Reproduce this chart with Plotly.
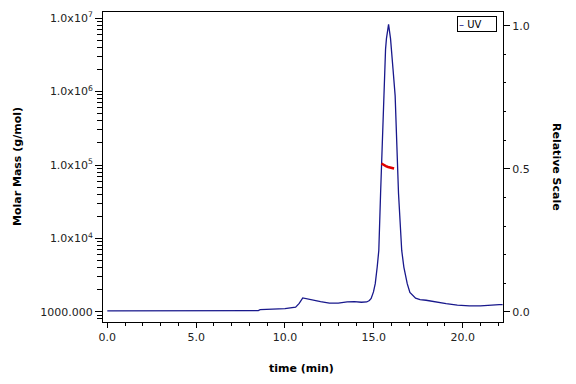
import plotly.graph_objects as go

# UV trace (relative scale)
uv_time = [0.0, 8.5, 8.6, 9.1, 10.0, 10.6, 10.8, 11.0, 11.2, 11.6, 12.0, 12.5, 13.0, 13.5,
           13.9, 14.3, 14.6, 14.75, 14.85, 14.98, 15.08, 15.19, 15.28, 15.38, 15.43, 15.51,
           15.54, 15.60, 15.66, 15.71, 15.83, 15.94, 15.98, 16.08, 16.20, 16.24, 16.28,
           16.31, 16.39, 16.57, 16.69, 16.88, 17.03, 17.35, 17.6, 17.94, 18.5, 19.07, 19.7,
           20.38, 21.0, 21.3, 22.06, 22.25]
uv_value = [0.004, 0.005, 0.008, 0.009, 0.012, 0.017, 0.030, 0.049, 0.046, 0.041, 0.036, 0.031,
            0.031, 0.035, 0.036, 0.034, 0.035, 0.040, 0.047, 0.070, 0.099, 0.157, 0.215, 0.414,
            0.518, 0.610, 0.720, 0.849, 0.918, 0.955, 1.005, 0.955, 0.918, 0.849, 0.755, 0.685,
            0.610, 0.518, 0.414, 0.215, 0.157, 0.099, 0.068, 0.048, 0.043, 0.041, 0.034, 0.029,
            0.024, 0.021, 0.021, 0.023, 0.026, 0.026]

# Molar mass trace (g/mol)
mm_time = [15.43, 15.50, 15.58, 15.68, 15.80, 15.92, 16.04, 16.14]
mm_value = [1.05e5, 1.02e5, 9.9e4, 9.65e4, 9.4e4, 9.2e4, 9.05e4, 8.95e4]

# Tick labels
x_ticks = [0, 5, 10, 15, 20]
mm_ticks = [1e3, 1e4, 1e5, 1e6, 1e7]
mm_ticktext = ["1000.000", "1.0x10<sup>4</sup>", "1.0x10<sup>5</sup>",
               "1.0x10<sup>6</sup>", "1.0x10<sup>7</sup>"]
mm_minor = [m * 10 ** e for e in range(2, 7) for m in range(2, 10)]
mm_minor = [v for v in mm_minor if v >= 700]
rel_ticks = [0.0, 0.5, 1.0]

FONT = "DejaVu Sans"
BLUE = "#18188c"
RED = "#e00000"

fig = go.Figure()
fig.add_trace(go.Scatter(x=uv_time, y=uv_value, mode="lines", name="UV",
                         line=dict(color=BLUE, width=1.3), yaxis="y", showlegend=False))
fig.add_trace(go.Scatter(x=mm_time, y=mm_value, mode="lines", name="Molar Mass",
                         line=dict(color=RED, width=2.5), yaxis="y2", showlegend=False))

tickfont = dict(family=FONT, size=11, color="#222222")

fig.update_layout(
    width=576, height=384,
    margin=dict(l=103, r=73, t=10, b=62),
    paper_bgcolor="white", plot_bgcolor="white",
    font=dict(family=FONT, size=11, color="black"),
    xaxis=dict(range=[-0.242, 22.27], tickvals=x_ticks, tickformat=".1f",
               showline=True, linecolor="black", linewidth=1, mirror=True,
               ticks="outside", ticklen=5, tickcolor="black", showgrid=False, zeroline=False,
               minor=dict(dtick=1, ticks="outside", ticklen=3, tickcolor="black", showgrid=False),
               tickfont=tickfont),
    yaxis=dict(range=[-0.035, 1.048], side="right", tickvals=rel_ticks, tickformat=".1f",
               showline=True, linecolor="black", linewidth=1,
               ticks="outside", ticklen=6, tickcolor="black", showgrid=False, zeroline=False,
               minor=dict(dtick=0.1, ticks="outside", ticklen=2, tickcolor="black", showgrid=False),
               tickfont=tickfont),
    yaxis2=dict(type="log", range=[2.862, 7.084], side="left", overlaying="y",
                tickvals=mm_ticks, ticktext=mm_ticktext,
                showline=True, linecolor="black", linewidth=1,
                ticks="outside", ticklen=7, tickcolor="black", showgrid=False, zeroline=False,
                minor=dict(tickmode="array", tickvals=mm_minor, ticks="outside", ticklen=5,
                           tickcolor="black", showgrid=False),
                tickfont=tickfont),
    annotations=[
        dict(text="<b>time (min)</b>", xref="paper", yref="paper", x=0.497, y=-0.149,
             xanchor="center", yanchor="middle", showarrow=False,
             font=dict(family=FONT, size=11, color="black")),
        dict(text="<b>Molar Mass (g/mol)</b>", xref="paper", yref="paper", x=-0.215, y=0.5,
             xanchor="center", yanchor="middle", textangle=-90, showarrow=False,
             font=dict(family=FONT, size=11, color="black")),
        dict(text="<b>Relative Scale</b>", xref="paper", yref="paper", x=1.135, y=0.5,
             xanchor="center", yanchor="middle", textangle=90, showarrow=False,
             font=dict(family=FONT, size=11, color="black")),
        dict(text="<span style='color:%s'>–</span> UV" % BLUE, xref="paper", yref="paper",
             x=0.935, y=0.9615, xanchor="center", yanchor="middle", showarrow=False,
             width=36, height=12, align="left", bordercolor="black", borderwidth=1,
             borderpad=1, bgcolor="white",
             font=dict(family=FONT, size=10, color="black")),
    ],
)

fig.write_html("out.html")
